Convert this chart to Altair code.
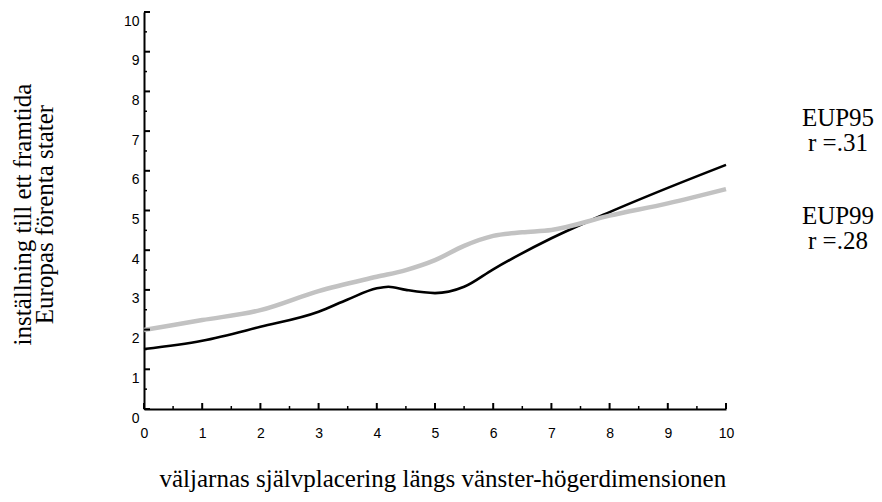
import altair as alt
import pandas as pd

# ---- data ----
major_ticks = [0, 1, 2, 3, 4, 5, 6, 7, 8, 9, 10]
minor_ticks = [0.5, 1.5, 2.5, 3.5, 4.5, 5.5, 6.5, 7.5, 8.5, 9.5]

eup95_x = [0, 1, 2, 3, 3.5, 4, 4.2, 4.5, 5, 5.5, 6, 7, 8, 9, 10]
eup95_y = [1.51, 1.72, 2.07, 2.45, 2.76, 3.04, 3.08, 3.00, 2.92, 3.08, 3.52, 4.30, 4.96, 5.57, 6.15]

eup99_x = [0, 1, 2, 3, 4, 4.5, 5, 5.5, 6, 6.5, 7, 8, 9, 10]
eup99_y = [1.99, 2.24, 2.49, 2.97, 3.33, 3.50, 3.75, 4.11, 4.36, 4.45, 4.51, 4.87, 5.18, 5.54]

y_title = ["inställning till ett framtida", "Europas förenta stater"]
x_title = "väljarnas självplacering längs vänster-högerdimensionen"
series_labels = ["EUP95\nr =.31", "EUP99\nr =.28"]

# ---- tables ----
df95 = pd.DataFrame({"x": eup95_x, "y": eup95_y})
df99 = pd.DataFrame({"x": eup99_x, "y": eup99_y})
df_major = pd.DataFrame({"x": major_ticks, "y": major_ticks})
df_minor = pd.DataFrame({"x": minor_ticks, "y": minor_ticks})

W, H = 582, 397
SERIF = "Liberation Serif"
SANS = "Liberation Sans"

xscale = alt.Scale(domain=[0, 10], nice=False, zero=False)
yscale = alt.Scale(domain=[0, 10], nice=False, zero=False)

x_axis = alt.Axis(
    values=major_ticks, format="d", ticks=False, grid=False,
    domainColor="black", domainWidth=2,
    labelFont=SANS, labelFontSize=14, labelColor="black", labelPadding=17,
    labelFlush=False, labelOverlap=False,
    title=x_title, titleFont=SERIF, titleFontSize=25, titleFontWeight="normal",
    titleColor="black", titleAnchor="start", titleAlign="left",
    titleBaseline="alphabetic", titleX=15, titleY=77,
)
y_axis = alt.Axis(
    values=major_ticks, format="d", ticks=False, grid=False,
    domainColor="black", domainWidth=2,
    labelFont=SANS, labelFontSize=14, labelColor="black", labelPadding=5,
    labelOffset=9, labelFlush=False, labelOverlap=False,
    title=y_title, titleFont=SERIF, titleFontSize=25, titleFontWeight="normal",
    titleColor="black", titleAngle=270, titleAlign="center",
    titleBaseline="alphabetic", titleLineHeight=22, titleX=-114, titleY=202,
)

X = alt.X("x:Q", scale=xscale, axis=x_axis)
Y = alt.Y("y:Q", scale=yscale, axis=y_axis)

line95 = alt.Chart(df95).mark_line(
    interpolate="monotone", color="black", strokeWidth=2.6
).encode(x=X, y=Y)

line99 = alt.Chart(df99).mark_line(
    interpolate="monotone", color="#c2c2c2", strokeWidth=4.5
).encode(x=X, y=Y)

# inward ticks drawn as rules
y_major = alt.Chart(df_major).mark_rule(color="black", strokeWidth=2).encode(
    y=Y, x=alt.value(0), x2=alt.value(6)
)
y_minor = alt.Chart(df_minor).mark_rule(color="black", strokeWidth=1.5).encode(
    y=Y, x=alt.value(0), x2=alt.value(3)
)
x_major = alt.Chart(df_major).mark_rule(color="black", strokeWidth=2).encode(
    x=X, y=alt.value(H), y2=alt.value(H - 6)
)
x_minor = alt.Chart(df_minor).mark_rule(color="black", strokeWidth=1.5).encode(
    x=X, y=alt.value(H), y2=alt.value(H - 3)
)

lab95 = alt.Chart(pd.DataFrame({"t": [series_labels[0]]})).mark_text(
    font=SERIF, fontSize=25, color="black", align="center", baseline="middle",
    lineBreak="\n", lineHeight=25,
).encode(text="t:N", x=alt.value(694), y=alt.value(105.5))

lab99 = alt.Chart(pd.DataFrame({"t": [series_labels[1]]})).mark_text(
    font=SERIF, fontSize=25, color="black", align="center", baseline="middle",
    lineBreak="\n", lineHeight=25,
).encode(text="t:N", x=alt.value(694), y=alt.value(203.5))

chart = alt.layer(
    line95, line99, y_major, y_minor, x_major, x_minor, lab95, lab99
).properties(
    width=W, height=H,
    autosize=alt.AutoSizeParams(type="none"),
    padding={"left": 136, "top": 4, "right": 148, "bottom": 85},
    background="white",
).configure_view(stroke=None)

chart.save("out.html", embed_options={"renderer": "svg", "actions": False})
